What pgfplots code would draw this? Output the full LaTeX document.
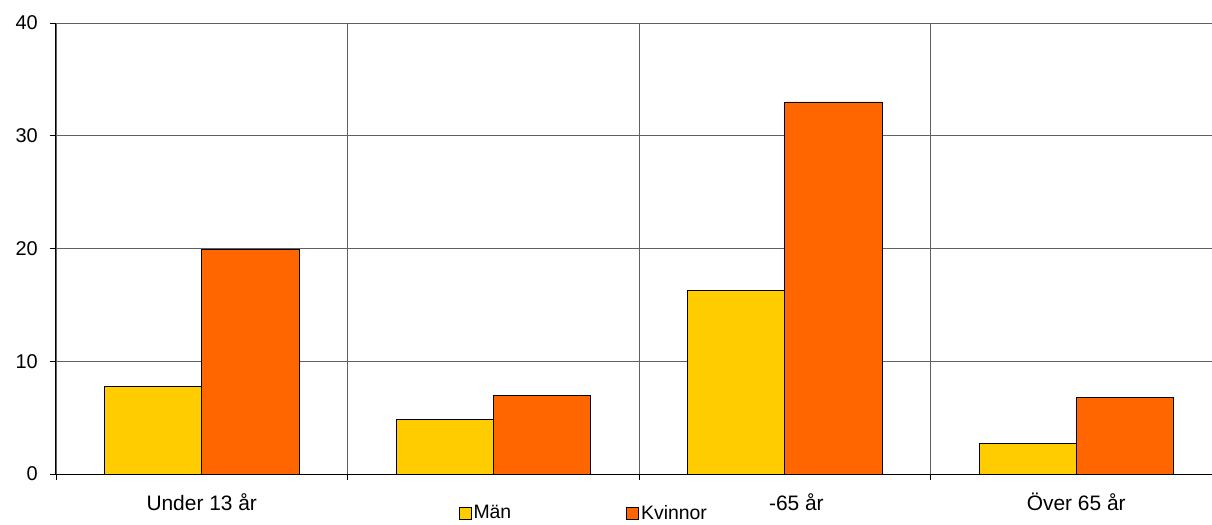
\documentclass[border=0pt]{standalone}
\usepackage{fontspec}
\setmainfont{Liberation Sans}
\usepackage{pgfplots}
\pgfplotsset{compat=1.18}
\definecolor{man}{HTML}{FFCC00}
\definecolor{kv}{HTML}{FF6600}
\definecolor{gridc}{HTML}{606060}
\begin{document}
\begin{tikzpicture}
\begin{axis}[
  at={(0,0)}, anchor=south west,
  scale only axis, width=1156bp, height=451bp,
  ybar=0pt, bar width=0.3333,
  xmin=-0.5, xmax=3.4657, ymin=0, ymax=40,
  axis lines=left, axis line style={-, black, line width=1bp},
  xtick={0,1,2,3},
  xticklabels={Under 13 år, , \phantom{19}-65 år, Över 65 år},
  major x tick style={draw=none},
  minor xtick={-0.5,0.5,1.5,2.5},
  minor x tick style={black, line width=0.8bp},
  xminorgrids, minor x grid style={gridc, line width=0.8bp},
  ytick={0,10,20,30,40},
  ymajorgrids, major y grid style={gridc, line width=0.8bp},
  major y tick style={black, line width=0.8bp},
  tick align=outside, major tick length=6bp, minor tick length=6bp,
  /pgf/number format/assume math mode=true,
  xticklabel style={font=\fontsize{21}{25}\selectfont, inner sep=0pt, yshift=-13bp},
  yticklabel style={font=\fontsize{20}{24}\selectfont, inner sep=0pt, xshift=-12bp},
  legend columns=2,
  legend style={at={(0.4566,-0.0865)}, anchor=center, draw=none, fill=none,
    font=\fontsize{19.5}{23}\selectfont,
    /tikz/every even column/.append style={column sep=113bp}},
]
\addplot[fill=man, draw=black, line width=0.8bp,
  legend image code/.code={\draw[fill=man, draw=black, line width=0.8bp] (-2bp,-6bp) rectangle (10bp,6bp);}]
  coordinates {(0,7.8) (1,4.8) (2,16.3) (3,2.7)};
\addplot[fill=kv, draw=black, line width=0.8bp,
  legend image code/.code={\draw[fill=kv, draw=black, line width=0.8bp] (-2bp,-6bp) rectangle (10bp,6bp);}]
  coordinates {(0,19.9) (1,7.0) (2,33.0) (3,6.8)};
\legend{Män, Kvinnor}
\end{axis}
\pgfresetboundingbox
\useasboundingbox (-56bp,-51bp) rectangle (1156bp,474bp);
\end{tikzpicture}
\end{document}
